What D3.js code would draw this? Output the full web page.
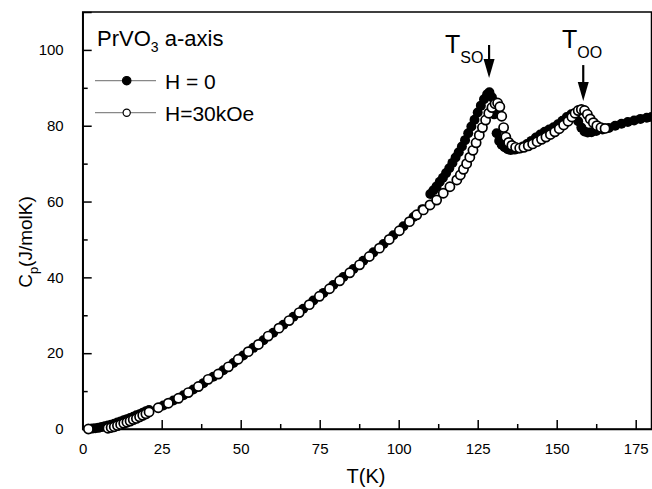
<!DOCTYPE html>
<html>
<head>
<meta charset="utf-8">
<script src="https://cdn.jsdelivr.net/npm/d3@7"></script>
<style>
    body { margin: 0; background: #fff; }
    text { font-family: Arial, "Liberation Sans", Helvetica, sans-serif; fill: #000; }
</style>
</head>
<body>
<div id="chart"></div>
<script>
// Specific heat of PrVO3 along the a-axis, H = 0 and H = 30 kOe

// H = 0 (filled circles)
const tZero = [2, 3, 4, 5, 6, 7, 8, 9, 10, 11, 12, 13, 14, 15, 16, 17, 18, 19, 20, 21,
    25.5, 28.7, 31.9, 35, 38.2, 41.3, 44.5, 47.7, 50.8, 54, 57.2, 60.3, 63.5, 66.7, 69.8,
    73, 76.2, 79.3, 82.5, 85.7, 88.8, 92, 95.2, 98.3, 101.5, 104.7, 107.5,
    110, 111, 112, 113, 114, 115, 116, 117, 118, 119, 120, 121, 122, 123, 124, 125, 126,
    127, 128, 128.7, 129.5, 130.2, 131, 131.8, 132.6, 133.5, 134.5, 135.5, 136.7, 138,
    139.3, 140.6, 142, 143.4, 144.8, 146.2, 147.6, 149, 150.4, 151.8, 153.2, 154.6, 155.8,
    156.8, 157.8, 158.8, 159.8, 161, 162.5, 164.5, 166.5, 168.5, 170.5, 172.5, 174.5,
    176.5, 178.5, 180];
const cpZero = [0, 0.1, 0.2, 0.3, 0.5, 0.7, 0.9, 1.1, 1.4, 1.7, 2.0, 2.3, 2.6, 2.9, 3.2, 3.6, 3.9, 4.3, 4.7, 5.0,
    6.2, 7.5, 8.9, 10.4, 12.1, 13.8, 15.5, 17.4, 19.4, 21.4, 23.4, 25.4, 27.5, 29.6, 31.7,
    33.9, 35.9, 38, 40.1, 42.2, 44.4, 46.6, 48.8, 51.1, 53.5, 55.9, 58.0,
    62, 63, 64, 65.2, 66.3, 67.5, 68.8, 70.2, 71.6, 73, 74.5, 76.2, 78, 79.8, 81.6, 83.5, 85.3,
    87, 88.3, 88.8, 87.5, 83, 78, 76, 75, 74.3, 73.8, 73.6, 73.7, 74,
    74.5, 75.2, 76, 76.9, 77.7, 78.4, 79, 79.6, 80.4, 81.3, 82.3, 83, 82.7,
    81.2, 79.5, 78.5, 78.2, 78.3, 78.6, 79, 79.4, 80, 80.5, 81, 81.4,
    81.8, 82.1, 82.3];

// H = 30 kOe (open circles)
const tField = [1.8, 8, 9, 10, 11, 12, 13, 14, 15, 16, 17, 18, 19, 20, 21,
    23.9, 27.1, 30.3, 33.4, 36.6, 39.7, 42.9, 46.1, 49.2, 52.4, 55.6, 58.7, 62.1, 65.3,
    68.5, 71.7, 74.9, 78.1, 81.3, 84.5, 87.6, 90.7, 93.9, 97, 100.2, 103.4, 105.7, 107.8,
    109.9, 112, 114.1, 116.2, 118.4, 119.5, 120.5, 121.5, 122.5, 123.5, 124.5, 125.5,
    126.5, 127.5, 128.5, 129.5, 130.5, 131.3, 132, 132.6, 133.2, 133.9, 134.8, 135.8,
    137, 138.3, 139.6, 141, 142.4, 143.8, 145.2, 146.6, 148, 149.4, 150.8, 152.2, 153.6,
    154.8, 155.8, 156.8, 157.8, 158.8, 159.7, 160.6, 161.6, 162.7, 164, 165.3];
const cpField = [0, 0.2, 0.4, 0.6, 0.9, 1.2, 1.5, 1.8, 2.1, 2.5, 2.8, 3.2, 3.6, 4.0, 4.5,
    5.6, 6.8, 8.1, 9.6, 11.2, 13.1, 14.5, 16.4, 18.4, 20.4, 22.3, 24.5, 26.6, 28.6,
    30.7, 32.8, 35, 37, 39.1, 41.2, 43.3, 45.5, 47.7, 50, 52.3, 54.7, 56.5, 57.8,
    59.1, 60.4, 62.2, 63.9, 65.7, 67, 68.5, 70, 71.7, 73.5, 75.5, 77.5,
    79.5, 81.5, 83.3, 84.8, 85.8, 86, 85, 82.5, 79.5, 77, 75.6, 74.8,
    74.3, 74.1, 74.3, 74.7, 75.2, 75.8, 76.4, 77, 77.7, 78.4, 79.2, 80.2, 81.2,
    82.3, 83.3, 84, 84.3, 84, 83, 81.8, 80.8, 80, 79.5, 79.3];

const xTicks = [0, 25, 50, 75, 100, 125, 150, 175];
const yTicks = [0, 20, 40, 60, 80, 100];

const zeroData = tZero.map((t, i) => ({ t: t, cp: cpZero[i] }));
const fieldData = tField.map((t, i) => ({ t: t, cp: cpField[i] }));

const totalWidth = 652, totalHeight = 489;
const margin = { top: 12, right: 0.5, bottom: 60, left: 82.7 };
const width = totalWidth - margin.left - margin.right;
const height = totalHeight - margin.top - margin.bottom;

const svg = d3.select("#chart")
    .append("svg")
    .attr("width", totalWidth)
    .attr("height", totalHeight);

const innerChart = svg.append("g")
    .attr("transform", `translate(${margin.left}, ${margin.top})`);

// Scales
const xScale = d3.scaleLinear().domain([0, 180]).range([0, width]);
const yScale = d3.scaleLinear().domain([0, 110]).range([height, 0]);

// Frame
innerChart.append("rect")
    .attr("width", width)
    .attr("height", height)
    .attr("fill", "none")
    .attr("stroke", "#000")
    .attr("stroke-width", 1.5);

// Minor ticks (inward)
innerChart.append("g")
    .attr("transform", `translate(0, ${height})`)
    .call(d3.axisTop(xScale).tickValues(d3.range(12.5, 180, 25)).tickSize(5).tickFormat(""))
    .call(g => g.select(".domain").remove())
    .selectAll("line").attr("stroke-width", 1.5);

innerChart.append("g")
    .call(d3.axisRight(yScale).tickValues(d3.range(10, 110, 20)).tickSize(5).tickFormat(""))
    .call(g => g.select(".domain").remove())
    .selectAll("line").attr("stroke-width", 1.5);

// X axis
const xAxis = innerChart.append("g")
    .attr("transform", `translate(0, ${height})`)
    .call(d3.axisBottom(xScale).tickValues(xTicks).tickSize(-9).tickPadding(14));
xAxis.select(".domain").attr("stroke-width", 1.5);
xAxis.selectAll("line").attr("stroke-width", 1.5);
xAxis.selectAll("text").style("font-size", "15px");

// Y axis
const yAxis = innerChart.append("g")
    .call(d3.axisLeft(yScale).tickValues(yTicks).tickSize(-9).tickPadding(19));
yAxis.select(".domain").attr("stroke-width", 1.5);
yAxis.selectAll("line").attr("stroke-width", 1.5);
yAxis.selectAll("text").style("font-size", "15px");

// Axis labels
svg.append("text")
    .attr("x", 366)
    .attr("y", 483)
    .attr("text-anchor", "middle")
    .style("font-size", "20px")
    .text("T(K)");

const yLabel = svg.append("text")
    .attr("transform", "translate(32, 242) rotate(-90)")
    .attr("text-anchor", "middle")
    .style("font-size", "19px");
yLabel.append("tspan").text("C");
yLabel.append("tspan").attr("dy", 6).style("font-size", "13px").text("p");
yLabel.append("tspan").attr("dy", -6).text("(J/molK)");

// Data points: H = 0 underneath, H = 30 kOe on top
innerChart.selectAll(".pt-zero")
    .data(zeroData)
    .join("circle")
    .attr("class", "pt-zero")
    .attr("cx", d => xScale(d.t))
    .attr("cy", d => yScale(d.cp))
    .attr("r", 5)
    .attr("fill", "#000");

innerChart.selectAll(".pt-field")
    .data(fieldData)
    .join("circle")
    .attr("class", "pt-field")
    .attr("cx", d => xScale(d.t))
    .attr("cy", d => yScale(d.cp))
    .attr("r", 4.6)
    .attr("fill", "#fff")
    .attr("stroke", "#000")
    .attr("stroke-width", 1.7);

// Transition arrows
function drawArrow(t, cpTop, cpTip) {
    const x = margin.left + xScale(t);
    const y0 = margin.top + yScale(cpTop);
    const y1 = margin.top + yScale(cpTip);
    svg.append("line")
        .attr("x1", x).attr("x2", x)
        .attr("y1", y0).attr("y2", y1 - 12)
        .attr("stroke", "#000")
        .attr("stroke-width", 2.2);
    svg.append("path")
        .attr("d", `M${x - 5.5},${y1 - 19} L${x + 5.5},${y1 - 19} L${x},${y1} Z`)
        .attr("fill", "#000");
}
drawArrow(128.6, 101.3, 92.6);
drawArrow(158.4, 96, 86.5);

// Transition labels
const tso = svg.append("text").attr("x", 445).attr("y", 53).style("font-size", "25px");
tso.append("tspan").text("T");
tso.append("tspan").attr("dy", 10).style("font-size", "16px").text("SO");

const too = svg.append("text").attr("x", 562).attr("y", 48).style("font-size", "25px");
too.append("tspan").text("T");
too.append("tspan").attr("dy", 10).style("font-size", "16px").text("OO");

// Legend
const title = svg.append("text").attr("x", 97).attr("y", 46).style("font-size", "22px");
title.append("tspan").text("PrVO");
title.append("tspan").attr("dy", 6).style("font-size", "14px").text("3");
title.append("tspan").attr("dy", -6).text(" a-axis");

const legendItems = [
    { label: "H = 0", y: 80.7, fill: "#000", r: 4.2 },
    { label: "H=30kOe", y: 112.7, fill: "#fff", r: 3.6 }
];
legendItems.forEach(item => {
    svg.append("line")
        .attr("x1", 95).attr("x2", 156)
        .attr("y1", item.y).attr("y2", item.y)
        .attr("stroke", "#888")
        .attr("stroke-width", 1.2);
    svg.append("circle")
        .attr("cx", 126.7).attr("cy", item.y)
        .attr("r", item.r)
        .attr("fill", item.fill)
        .attr("stroke", "#000")
        .attr("stroke-width", 1.2);
    svg.append("text")
        .attr("x", 165).attr("y", item.y + 8)
        .style("font-size", "21px")
        .text(item.label);
});
</script>
</body>
</html>
